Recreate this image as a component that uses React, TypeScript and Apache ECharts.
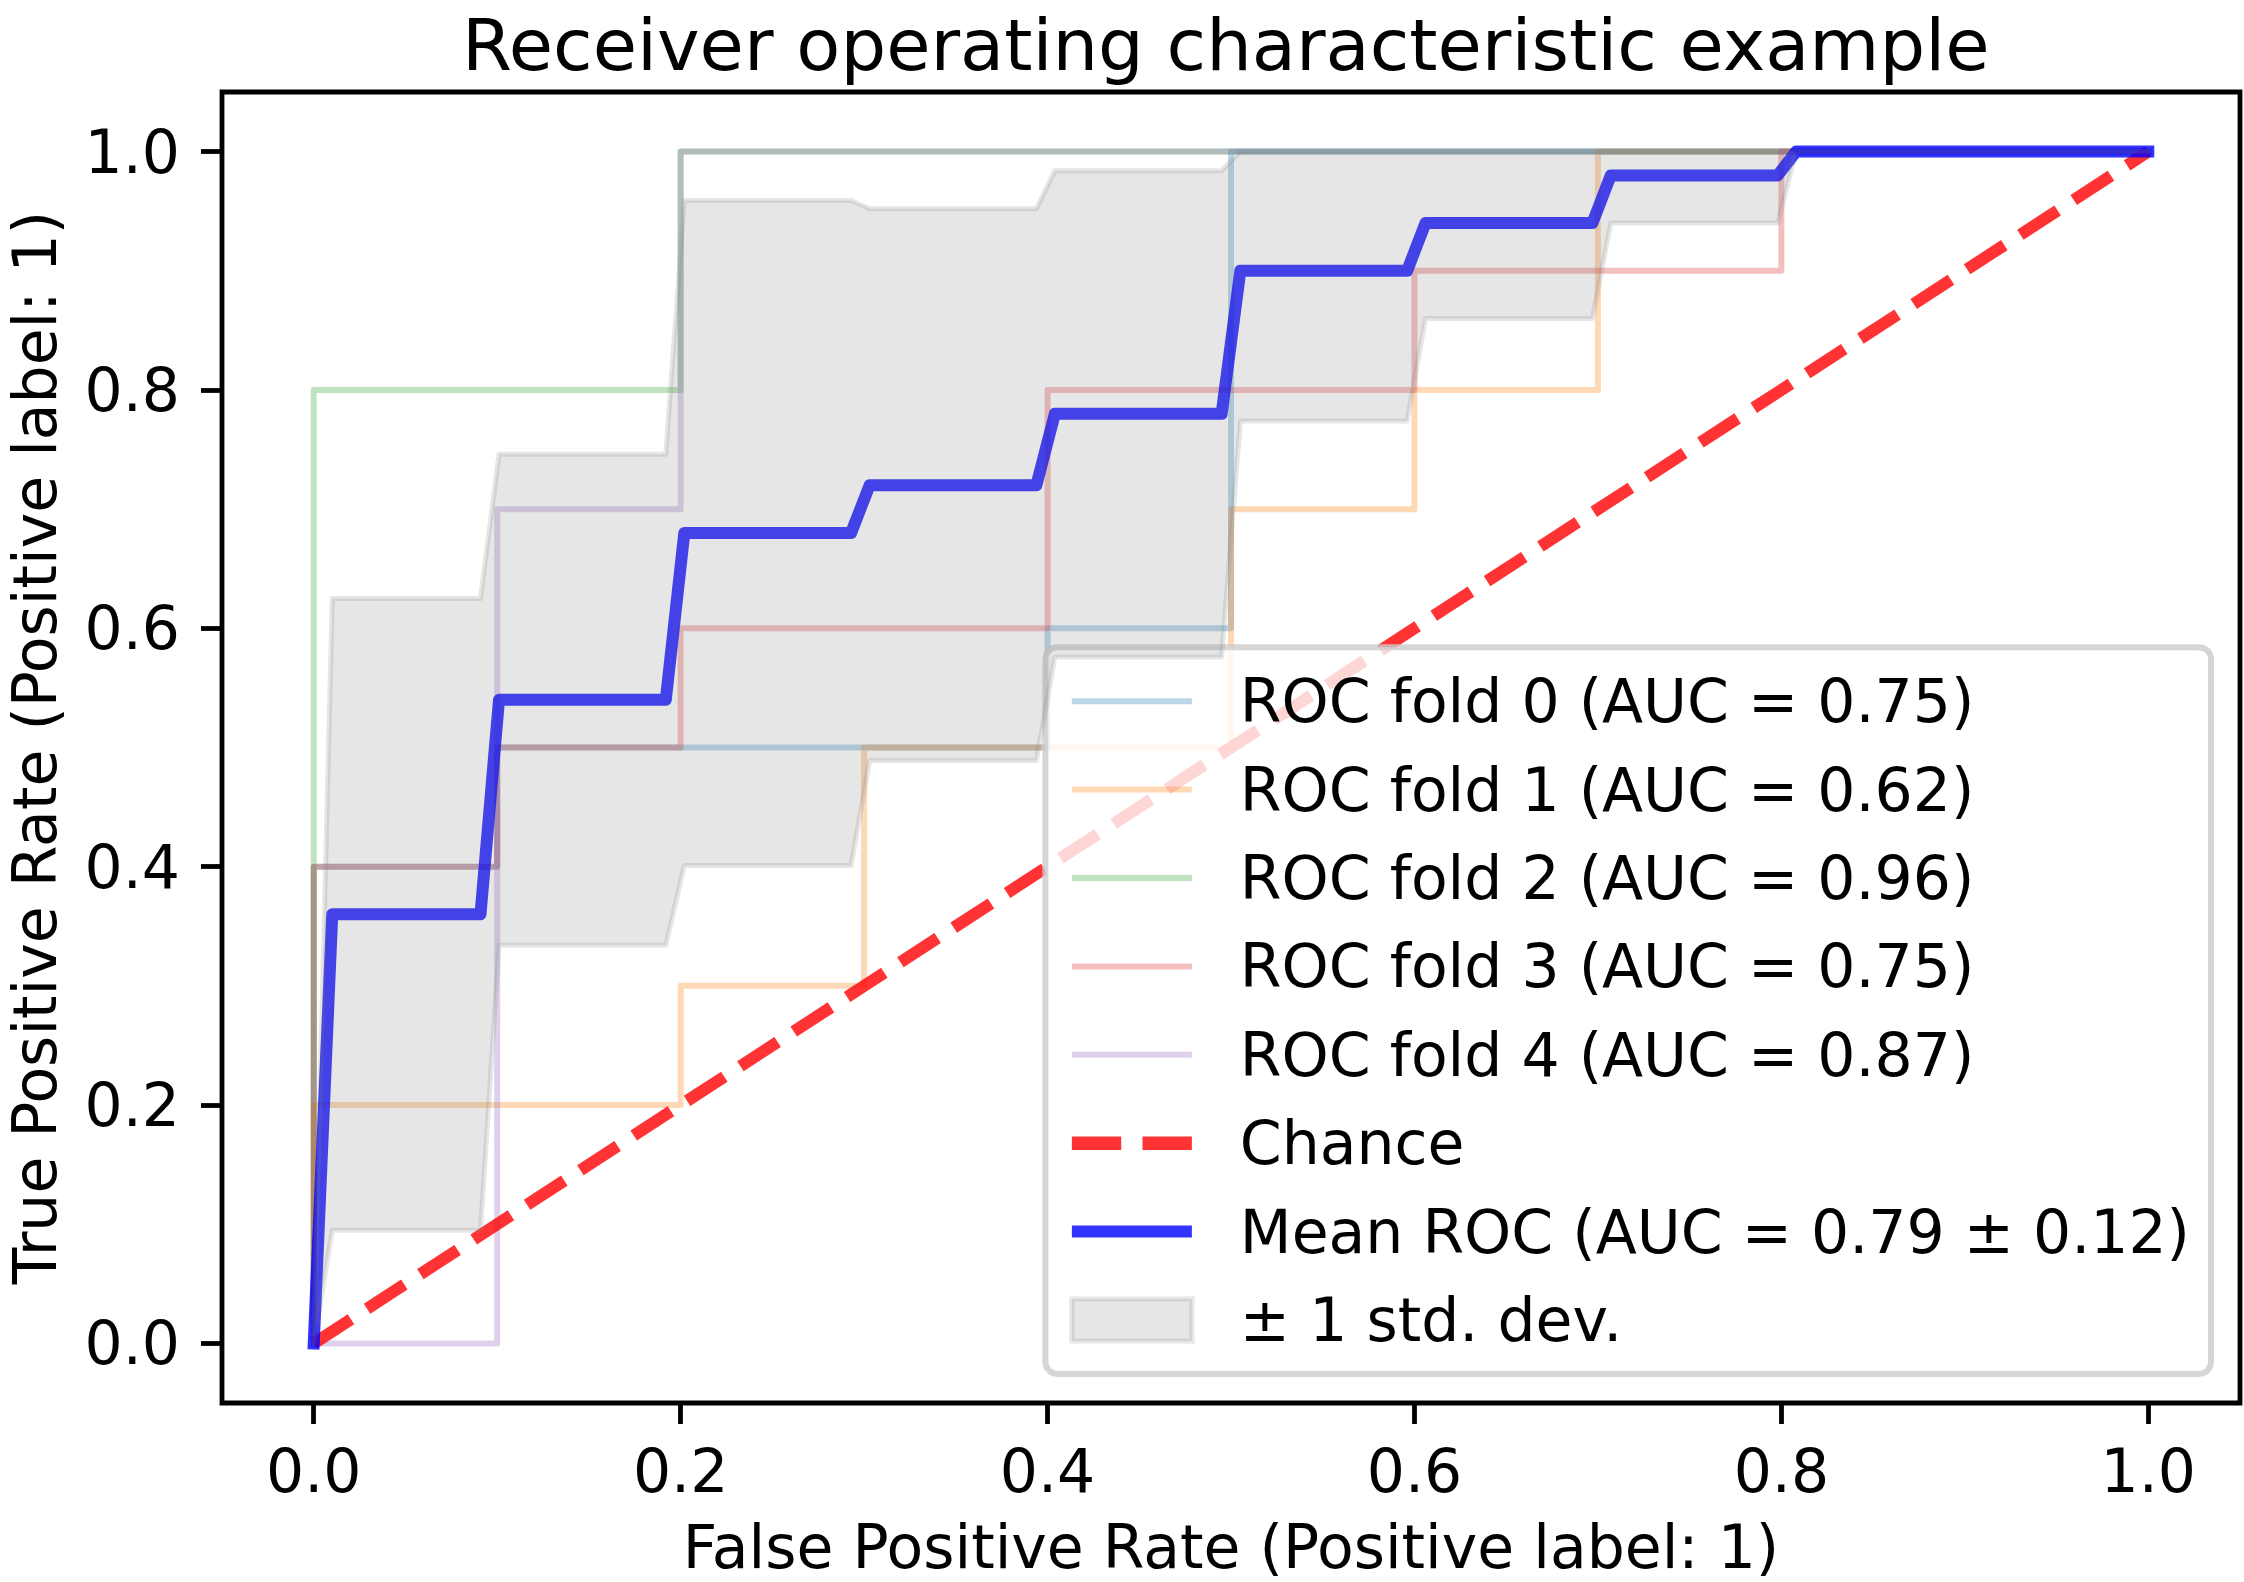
import React, { useEffect, useRef } from "react";
import * as echarts from "echarts";

// ---- data ----
const fold0Fpr = [0, 0, 0.1, 0.1, 0.4, 0.4, 0.5, 0.5, 1.0];
const fold0Tpr = [0, 0.4, 0.4, 0.5, 0.5, 0.6, 0.6, 1.0, 1.0];
const fold1Fpr = [0, 0, 0.2, 0.2, 0.3, 0.3, 0.5, 0.5, 0.6, 0.6, 0.7, 0.7, 1.0];
const fold1Tpr = [0, 0.2, 0.2, 0.3, 0.3, 0.5, 0.5, 0.7, 0.7, 0.8, 0.8, 1.0, 1.0];
const fold2Fpr = [0, 0, 0.2, 0.2, 1.0];
const fold2Tpr = [0, 0.8, 0.8, 1.0, 1.0];
const fold3Fpr = [0, 0, 0.1, 0.1, 0.2, 0.2, 0.4, 0.4, 0.6, 0.6, 0.8, 0.8, 1.0];
const fold3Tpr = [0, 0.4, 0.4, 0.5, 0.5, 0.6, 0.6, 0.8, 0.8, 0.9, 0.9, 1.0, 1.0];
const fold4Fpr = [0, 0.1, 0.1, 0.2, 0.2, 1.0];
const fold4Tpr = [0, 0, 0.7, 0.7, 1.0, 1.0];
const foldAuc = [0.75, 0.62, 0.96, 0.75, 0.87];

const chanceX = [0, 1];
const chanceY = [0, 1];

const meanFpr = [0, 0.0101, 0.0909, 0.101, 0.1919, 0.202, 0.2929, 0.303, 0.3939, 0.404, 0.4949, 0.5051, 0.596, 0.606, 0.697, 0.707, 0.798, 0.808, 1.0];
const meanTpr = [0, 0.36, 0.36, 0.54, 0.54, 0.68, 0.68, 0.72, 0.72, 0.78, 0.78, 0.9, 0.9, 0.94, 0.94, 0.98, 0.98, 1.0, 1.0];
const stdUpper = [0, 0.625, 0.625, 0.746, 0.746, 0.959, 0.959, 0.952, 0.952, 0.984, 0.984, 1, 1, 1, 1, 1, 1, 1, 1];
const stdLower = [0, 0.095, 0.095, 0.334, 0.334, 0.401, 0.401, 0.489, 0.489, 0.576, 0.576, 0.774, 0.774, 0.86, 0.86, 0.94, 0.94, 1, 1];
const meanAuc = 0.79;
const stdAuc = 0.12;

const tickValues = [0, 0.2, 0.4, 0.6, 0.8, 1.0];

const TITLE = "Receiver operating characteristic example";
const X_NAME = "False Positive Rate (Positive label: 1)";
const Y_NAME = "True Positive Rate (Positive label: 1)";

// ---- styles ----
const FONT = "DejaVu Sans";
const foldColors = [
  "rgba(31,119,180,0.3)",
  "rgba(255,127,14,0.3)",
  "rgba(44,160,44,0.3)",
  "rgba(214,39,40,0.3)",
  "rgba(148,103,189,0.3)",
];
const CHANCE_COLOR = "rgba(255,0,0,0.8)";
const MEAN_COLOR = "rgba(0,0,255,0.8)";
const BAND_COLOR = "rgba(128,128,128,0.2)";

const folds = [
  [fold0Fpr, fold0Tpr],
  [fold1Fpr, fold1Tpr],
  [fold2Fpr, fold2Tpr],
  [fold3Fpr, fold3Tpr],
  [fold4Fpr, fold4Tpr],
];

export default function App() {
  const ref = useRef<HTMLDivElement>(null);

  useEffect(() => {
    document.body.style.margin = "0";
    const chart = echarts.init(ref.current!, null, { renderer: "svg" });

    const foldNames = foldAuc.map((a, i) => `ROC fold ${i} (AUC = ${a.toFixed(2)})`);
    const meanName = `Mean ROC (AUC = ${meanAuc.toFixed(2)} ± ${stdAuc.toFixed(2)})`;
    const bandName = "± 1 std. dev.";
    const chanceName = "Chance";

    const foldSeries = folds.map(([fx, fy], i) => ({
      type: "line",
      name: foldNames[i],
      data: fx.map((x, j) => [x, fy[j]]),
      showSymbol: false,
      symbol: "none",
      lineStyle: { color: foldColors[i], width: 6, cap: "square", join: "round" },
      itemStyle: { color: foldColors[i] },
      z: 2,
      silent: true,
    }));

    const legendData = [
      ...foldNames.map((n, i) => ({
        name: n,
        icon: "path://M0 0H120V6H0Z",
        itemStyle: { color: foldColors[i], borderWidth: 0, borderColor: "transparent" },
      })),
      {
        name: chanceName,
        icon: "path://M0 0H44V12H0Z M63 0H107V12H63Z",
        itemStyle: { color: CHANCE_COLOR, borderWidth: 0, borderColor: "transparent" },
      },
      {
        name: meanName,
        icon: "path://M0 0H120V12H0Z",
        itemStyle: { color: MEAN_COLOR, borderWidth: 0, borderColor: "transparent" },
      },
      {
        name: bandName,
        icon: "path://M0 0H120V42H0Z",
        itemStyle: { color: BAND_COLOR, borderWidth: 5, borderColor: BAND_COLOR },
      },
    ];

    const axisCommon = {
      type: "value",
      min: -0.05,
      max: 1.05,
      nameLocation: "middle",
      nameTextStyle: { fontSize: 60, lineHeight: 60, color: "#000", fontFamily: FONT },
      axisLine: { show: false, onZero: false },
      splitLine: { show: false },
      axisTick: { show: true, inside: false, customValues: tickValues, length: 21, lineStyle: { color: "#000", width: 4.8 } },
    };
    const labelCommon = {
      show: true,
      customValues: tickValues,
      fontSize: 60,
      lineHeight: 60,
      color: "#000",
      fontFamily: FONT,
      formatter: (v: number) => v.toFixed(1),
    };

    const option: any = {
      animation: false,
      backgroundColor: "#ffffff",
      textStyle: { fontFamily: FONT },
      title: {
        text: TITLE,
        left: 462,
        top: 17,
        padding: 0,
        textStyle: { fontSize: 72, lineHeight: 56, fontWeight: "normal", color: "#000", fontFamily: FONT },
      },
      grid: {
        left: 222,
        right: 4,
        top: 92,
        bottom: 179,
        show: true,
        borderColor: "#000",
        borderWidth: 4.8,
        backgroundColor: "transparent",
        containLabel: false,
        outerBoundsMode: "none",
      },
      xAxis: {
        ...axisCommon,
        name: X_NAME,
        nameGap: 114,
        axisLabel: { ...labelCommon, margin: 38 },
      },
      yAxis: {
        ...axisCommon,
        name: Y_NAME,
        nameGap: 157,
        axisLabel: { ...labelCommon, margin: 42 },
      },
      legend: {
        show: true,
        orient: "vertical",
        right: 33,
        bottom: 208,
        padding: [24, 21, 24, 24],
        itemWidth: 120,
        itemHeight: 43,
        itemGap: 28.4,
        align: "left",
        selectedMode: false,
        backgroundColor: "rgba(255,255,255,0.8)",
        borderColor: "rgba(204,204,204,0.8)",
        borderWidth: 6,
        borderRadius: 12,
        textStyle: { fontSize: 60, lineHeight: 60, color: "#000", fontFamily: FONT, padding: [0, 0, 0, 43] },
        data: legendData,
      },
      series: [
        ...foldSeries,
        {
          type: "line",
          name: chanceName,
          data: chanceX.map((x, i) => [x, chanceY[i]]),
          showSymbol: false,
          symbol: "none",
          lineStyle: { color: CHANCE_COLOR, width: 12, type: [44.4, 19.2], cap: "butt" },
          itemStyle: { color: CHANCE_COLOR },
          z: 3,
          silent: true,
        },
        {
          type: "line",
          name: meanName,
          data: meanFpr.map((x, i) => [x, meanTpr[i]]),
          showSymbol: false,
          symbol: "none",
          lineStyle: { color: MEAN_COLOR, width: 12, cap: "square", join: "round" },
          itemStyle: { color: MEAN_COLOR },
          z: 4,
          silent: true,
        },
        {
          type: "custom",
          name: bandName,
          coordinateSystem: "cartesian2d",
          data: meanFpr.map((x, i) => [x, stdUpper[i], stdLower[i]]),
          encode: { x: 0, y: [1, 2] },
          itemStyle: { color: BAND_COLOR },
          z: 5,
          silent: true,
          renderItem: (params: any, api: any) => {
            if (params.dataIndex !== 0) return null;
            const up = meanFpr.map((x, i) => api.coord([x, stdUpper[i]]));
            const lo = meanFpr.map((x, i) => api.coord([x, stdLower[i]])).reverse();
            return {
              type: "polygon",
              shape: { points: up.concat(lo) },
              style: { fill: BAND_COLOR, stroke: BAND_COLOR, lineWidth: 5, lineJoin: "round" },
            };
          },
        },
      ],
    };

    chart.setOption(option);
    return () => chart.dispose();
  }, []);

  return (
    <div
      ref={ref}
      style={{ position: "absolute", left: 0, top: 0, width: 2244, height: 1582, background: "#fff" }}
    />
  );
}
